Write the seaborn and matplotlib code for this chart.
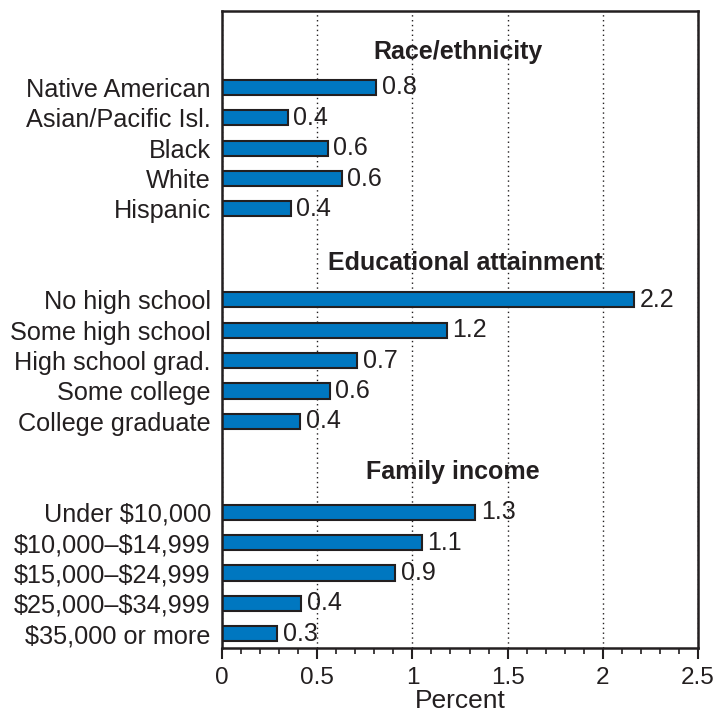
import pandas as pd
import seaborn as sns
import matplotlib.pyplot as plt
from matplotlib.ticker import MultipleLocator

# dados
race_labels = ['Native American', 'Asian/Pacific Isl.', 'Black', 'White', 'Hispanic']
race_values = [0.81, 0.345, 0.555, 0.63, 0.36]
race_text = ['0.8', '0.4', '0.6', '0.6', '0.4']

edu_labels = ['No high school', 'Some high school', 'High school grad.', 'Some college', 'College graduate']
edu_values = [2.165, 1.18, 0.71, 0.565, 0.41]
edu_text = ['2.2', '1.2', '0.7', '0.6', '0.4']

income_labels = ['Under $10,000', '$10,000\u2013$14,999', '$15,000\u2013$24,999', '$25,000\u2013$34,999', '$35,000 or more']
income_values = [1.33, 1.05, 0.91, 0.415, 0.29]
income_text = ['1.3', '1.1', '0.9', '0.4', '0.3']

group_titles = ['Race/ethnicity', 'Educational attainment', 'Family income']

sns.set_style('white')
plt.rcParams['font.family'] = ['Liberation Sans', 'DejaVu Sans']
plt.rcParams['text.parse_math'] = False
ink = '#231f20'
plt.rcParams['text.color'] = ink
plt.rcParams['xtick.color'] = ink
plt.rcParams['ytick.color'] = ink
plt.rcParams['axes.labelcolor'] = ink

# posicoes: 5 barras por grupo, 2 espacos entre grupos
labels = race_labels + edu_labels + income_labels
values = race_values + edu_values + income_values
texts = race_text + edu_text + income_text
pos = list(range(0, 5)) + list(range(7, 12)) + list(range(14, 19))
df = pd.DataFrame({'pos': pos, 'value': values})

fig = plt.figure(figsize=(7.17, 7.17), dpi=100)
ax = fig.add_axes([0.3096, 0.0962, 0.9735 - 0.3096, 0.9847 - 0.0962])

ax.grid(axis='x', color=ink, linestyle=(0, (1, 2.5)), linewidth=1)
ax.set_axisbelow(True)

sns.barplot(data=df, x='value', y='pos', orient='h', native_scale=True,
            color='#0077c0', saturation=1, edgecolor=ink, linewidth=1.5,
            width=0.5, ax=ax)

ax.bar_label(ax.containers[0], labels=texts, padding=4, fontsize=18, color=ink)

ax.set_xlim(0, 2.5)
ax.set_ylim(18.47, -2.52)
ax.set_xticks([0, 0.5, 1, 1.5, 2, 2.5])
ax.set_xticklabels(['0', '0.5', '1', '1.5', '2', '2.5'])
ax.xaxis.set_minor_locator(MultipleLocator(0.1))
ax.set_yticks(pos)
ax.set_yticklabels(labels, fontsize=18.2)
ax.tick_params(axis='x', which='major', length=8, width=1.5, labelsize=17.5, pad=6, bottom=True)
ax.tick_params(axis='x', which='minor', length=4, width=1.2, bottom=True)
ax.tick_params(axis='y', length=0, pad=8)

for title, x, y in zip(group_titles, [1.24, 1.28, 1.21], [-1.17, 5.79, 12.67]):
    ax.text(x, y, title, ha='center', va='center', fontsize=18, fontweight='bold')

for s in ax.spines.values():
    s.set_visible(True)
    s.set_color(ink)
    s.set_linewidth(1.8)

ax.set_xlabel('Percent', fontsize=19, labelpad=0)
ax.set_ylabel('')

plt.savefig('out.png', dpi=100)
